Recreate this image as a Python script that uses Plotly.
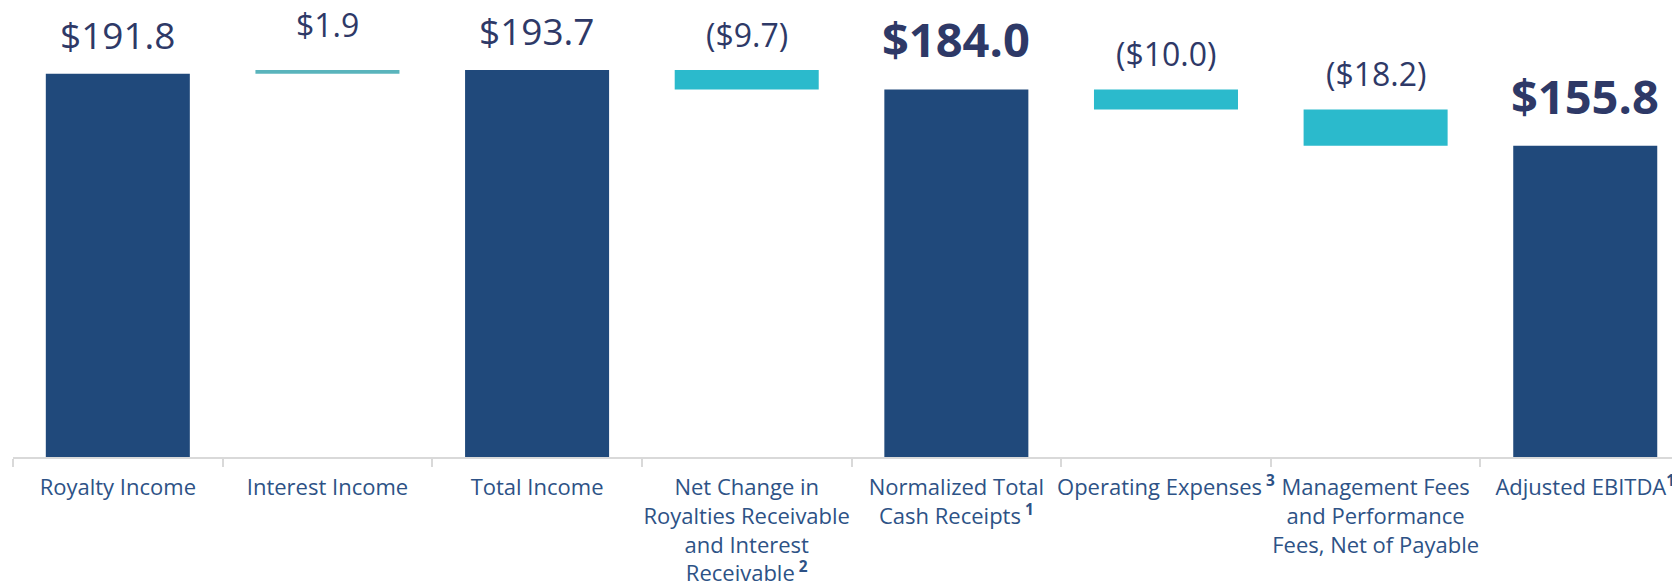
import plotly.graph_objects as go

# ---- data ----
categories = [
    "Royalty Income",
    "Interest Income",
    "Total Income",
    "Net Change in<br>Royalties Receivable<br>and Interest<br>Receivable<sup><b> 2</b></sup>",
    "Normalized Total<br>Cash Receipts<sup><b> 1</b></sup>",
    "Operating Expenses<sup><b> 3</b></sup>",
    "Management Fees<br>and Performance<br>Fees, Net of Payable",
    "Adjusted EBITDA<sup><b>1</b></sup>",
]
values = [191.8, 1.9, 193.7, -9.7, 184.0, -10.0, -18.2, 155.8]
measures = ["absolute", "relative", "total", "relative", "total", "relative", "relative", "total"]

# ---- style ----
NAVY = "#20497B"
TEAL = "#2BBACC"
TEAL_LIGHT = "#5AB4BC"
VALUE_COLOR = "#2E3967"
LABEL_COLOR = "#2D5286"
FONT = "Open Sans"
highlight = {categories[4], categories[7]}

fig = go.Figure(go.Waterfall(
    x=categories,
    y=values,
    measure=measures,
    increasing=dict(marker=dict(color=TEAL_LIGHT, line=dict(width=0))),
    decreasing=dict(marker=dict(color=TEAL, line=dict(width=0))),
    totals=dict(marker=dict(color=NAVY, line=dict(width=0))),
    connector=dict(visible=False),
    hoverinfo="skip",
))

# value labels above each bar top
running = 0.0
annotations = []
for cat, v, m in zip(categories, values, measures):
    if m == "absolute":
        running = v
        top = v
        kind = "total"
    elif m == "total":
        top = running
        kind = "total"
    else:
        prev = running
        running = running + v
        top = max(prev, running)
        kind = "increase" if v >= 0 else "decrease"
    if kind == "total":
        txt = f"${top:.1f}"
    else:
        txt = f"${v:.1f}" if v >= 0 else f"(${abs(v):.1f})"
    if cat in highlight:
        font = dict(family=FONT, size=47, color=VALUE_COLOR)
        txt = f"<b>{txt}</b>"
        ys = 16
    elif kind == "total":
        font = dict(family=FONT, size=37, color=VALUE_COLOR)
        ys = 12
    elif kind == "increase":
        font = dict(family=FONT, size=32, color=VALUE_COLOR)
        ys = 22
    else:
        font = dict(family=FONT, size=32, color=VALUE_COLOR)
        ys = 12
    annotations.append(dict(x=cat, y=top, xref="x", yref="y", text=txt, showarrow=False,
                            yanchor="bottom", xanchor="center", yshift=ys, font=font))

fig.update_layout(
    width=1672, height=575,
    margin=dict(l=4.5, r=0, t=0, b=125.5, pad=0, autoexpand=False),
    paper_bgcolor="white", plot_bgcolor="white",
    showlegend=False,
    waterfallgap=0.313,
    annotations=annotations,
    font=dict(family=FONT),
    xaxis=dict(
        type="category",
        range=[-0.5, 7.452],
        automargin=False,
        tickangle=0,
        showline=True, linecolor="#D9D9D9", linewidth=2,
        ticks="outside", tickson="boundaries", ticklen=8, tickwidth=2, tickcolor="#D9D9D9",
        ticklabelstandoff=10,
        tickfont=dict(family=FONT, size=22, color=LABEL_COLOR),
        showgrid=False, zeroline=False, fixedrange=True,
    ),
    yaxis=dict(visible=False, range=[0, 224.75], showgrid=False, zeroline=False,
               fixedrange=True, automargin=False),
)

fig.write_html("out.html")
